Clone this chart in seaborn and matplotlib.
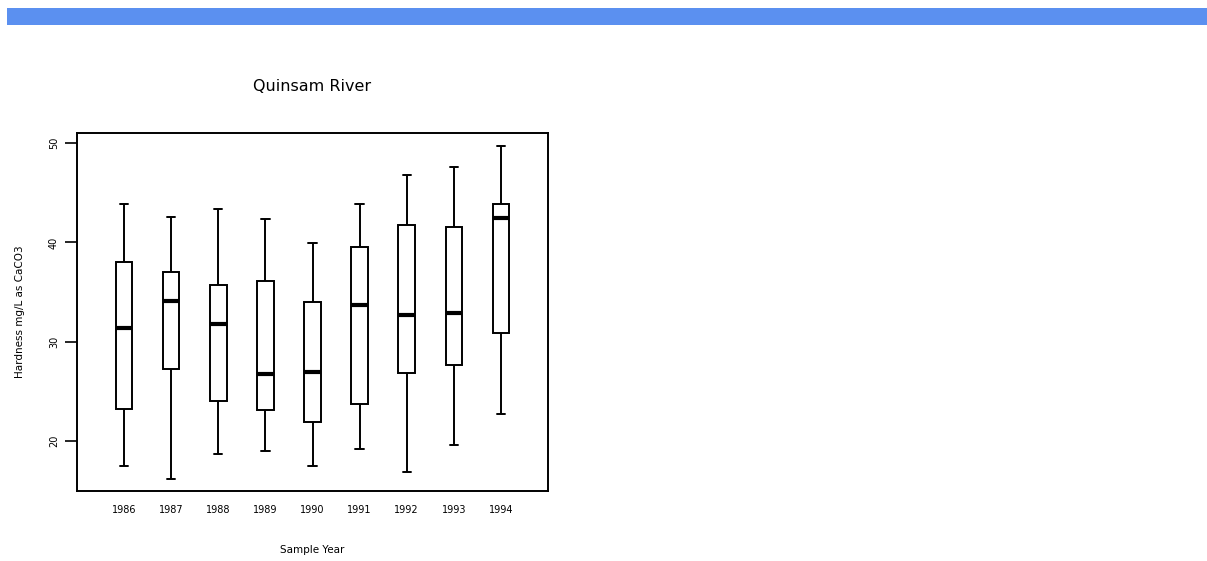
import matplotlib
matplotlib.use('Agg')
import matplotlib.pyplot as plt
import numpy as np
import pandas as pd
import seaborn as sns
from matplotlib.patches import Rectangle

# five-number summaries
years = ['1986', '1987', '1988', '1989', '1990', '1991', '1992', '1993', '1994']
low = [17.5, 16.2, 18.75, 19.0, 17.5, 19.2, 16.9, 19.6, 22.7]
q1 = [23.2, 27.3, 24.0, 23.1, 21.9, 23.75, 26.9, 27.7, 30.9]
median = [31.4, 34.1, 31.8, 26.8, 27.0, 33.7, 32.7, 32.9, 42.5]
q3 = [38.0, 37.0, 35.7, 36.1, 34.0, 39.5, 41.7, 41.5, 43.9]
high = [43.9, 42.6, 43.4, 42.4, 39.9, 43.9, 46.8, 47.6, 49.7]

# five points per year give exactly these quartiles with numpy's percentiles
rows = []
for i, y in enumerate(years):
    for v in (low[i], q1[i], median[i], q3[i], high[i]):
        rows.append({'year': y, 'hardness': v})
df = pd.DataFrame(rows)

sns.set_style('ticks')
plt.rcParams['font.family'] = ['DejaVu Sans']
plt.rcParams['text.color'] = 'black'
plt.rcParams['axes.labelcolor'] = 'black'
plt.rcParams['xtick.color'] = 'black'
plt.rcParams['ytick.color'] = 'black'

fig = plt.figure(figsize=(12.07, 5.61), dpi=100)
ax = fig.add_axes([77 / 1207, 70 / 561, 471 / 1207, 358 / 561])

# banner strip at the top
fig.patches.append(Rectangle((7 / 1207, 1 - 25 / 561), 1200 / 1207, 17 / 561,
                             transform=fig.transFigure, facecolor='#5b90f0',
                             edgecolor='none'))

sns.boxplot(
    data=df,
    x='year',
    y='hardness',
    whis=np.inf,
    width=0.35,
    color='white',
    linecolor='black',
    linewidth=1.4,
    medianprops=dict(linewidth=3, color='black'),
    ax=ax,
)

ax.set_xlim(-1, 9)
ax.set_ylim(15, 51)
ax.set_yticks([20, 30, 40, 50])
for s in ax.spines.values():
    s.set_visible(True)
    s.set_linewidth(1.4)
    s.set_color('black')
ax.tick_params(axis='x', length=0, labelsize=7, pad=10)
ax.tick_params(axis='y', length=9, width=1.2, labelsize=7, labelrotation=90, pad=4)
for lbl in ax.get_yticklabels():
    lbl.set_va('center')

ax.set_title('Quinsam River', fontsize=11.5, pad=30)
ax.set_xlabel('Sample Year', fontsize=7.5, labelpad=22)
ax.set_ylabel('Hardness mg/L as CaCO3', fontsize=7.5, labelpad=17)

fig.savefig('out.png', dpi=100)
